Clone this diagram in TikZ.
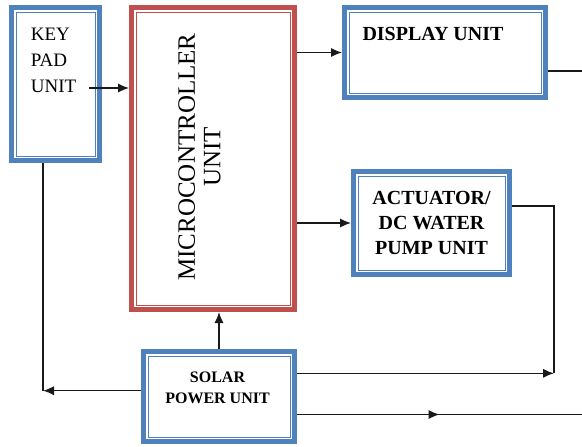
\documentclass[tikz,border=0pt]{standalone}
\usepackage{fontspec}
\setmainfont{Liberation Serif}
\usetikzlibrary{arrows.meta,positioning,calc,decorations.markings}
\definecolor{unitblue}{HTML}{4F81BD}
\definecolor{unitred}{HTML}{C0504D}

\begin{document}
\begin{tikzpicture}[x=0.5pt, y=-0.5pt,
  unitbox/.style={draw=#1, line width=2.6pt, outer sep=1.3pt, inner sep=0pt},
  link/.style={black!90, line width=0.7pt},
  arr/.style={link, -{Latex[length=5.5pt,width=4.6pt]}},
  midarr/.style={link, postaction={decorate}, decoration={markings, mark=at position 0.5 with {\arrow{Latex[length=5.5pt,width=4.6pt]}}}}]
\useasboundingbox (0,0) rectangle (582,446);
% blocks
\node[unitbox=unitblue, minimum width=43.9pt, minimum height=76.4pt] (kp) at (55.5,84) {};
\node[anchor=north west, align=left, inner sep=0pt, font=\fontsize{9.5}{13}\selectfont] (kptext) at (30.5,28) {KEY\\PAD\\UNIT};
\node[unitbox=unitred, minimum width=81.4pt, minimum height=150.9pt] (mcu) at (213,158.5) {};
\node[rotate=90, align=center, inner sep=0pt, font=\fontsize{12.5}{12.7}\selectfont] (mcutext) at (199.5,157) {MICROCONTROLLER\\UNIT};
\node[unitbox=unitblue, minimum width=100.4pt, minimum height=44.9pt] (disp) at (445,52.5) {};
\node[inner sep=0pt, font=\bfseries\fontsize{10}{12}\selectfont] (disptext) at (433,34) {DISPLAY UNIT};
\node[unitbox=unitblue, minimum width=77.9pt, minimum height=51.4pt, align=center, font=\bfseries\fontsize{10}{12.3}\selectfont] (act) at (431.5,223) {ACTUATOR/\\DC WATER\\PUMP UNIT};
\node[unitbox=unitblue, minimum width=75.4pt, minimum height=44.9pt] (solar) at (219,396.5) {};
\node[align=center, inner sep=0pt, font=\bfseries\fontsize{8}{10.5}\selectfont] (solartext) at (217.5,388) {SOLAR\\POWER UNIT};
% thin inner frames
\foreach \n/\c in {kp/unitblue, mcu/unitred, disp/unitblue, act/unitblue, solar/unitblue}
  \draw[\c, line width=0.5pt] ([shift={(3.5pt,-3.5pt)}]\n.north west) rectangle ([shift={(-3.5pt,3.5pt)}]\n.south east);
% connections
\coordinate (kpout) at (89,88);
\coordinate (dispend) at (582,71);
\coordinate (rjoin) at (554,373.3);
\coordinate (kpjoin) at (43,390.7);
\coordinate (botend) at (582,414.5);
\draw[arr] (kpout) -- (kpout -| mcu.west);
\draw[arr] (mcu.east |- disp.west) -- (disp.west);
\draw[arr] (mcu.east |- act.west) -- (act.west);
\draw[link] (disp.east |- dispend) -- (dispend);
\draw[link] ([yshift=8.6pt]act.east) -| (rjoin);
\draw[arr] (solar.east |- rjoin) -- (rjoin);
\draw[arr] (solar.north) -- (solar.north |- mcu.south);
\draw[link] (kp.south -| kpjoin) -- (kpjoin);
\draw[arr] (solar.west |- kpjoin) -- (kpjoin);
\draw[midarr] (solar.east |- botend) -- (botend);
\end{tikzpicture}
\end{document}
